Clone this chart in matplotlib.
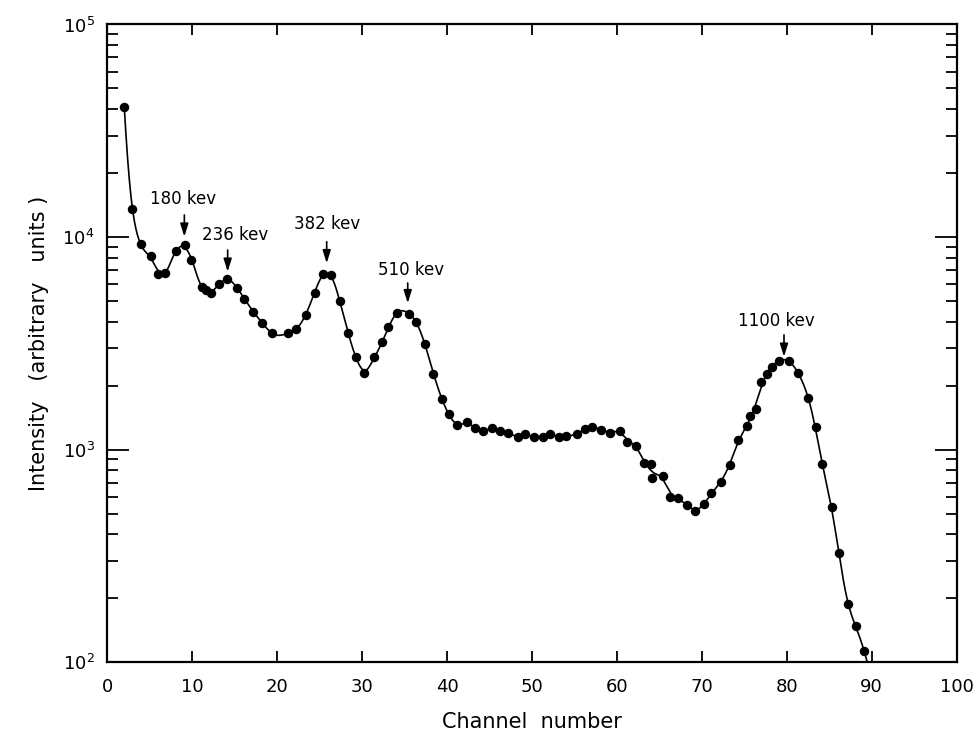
import numpy as np
import matplotlib
matplotlib.use("Agg")
import matplotlib.pyplot as plt
from matplotlib.ticker import LogLocator, MultipleLocator, NullFormatter

# ---- measured spectrum (channel, intensity) ----
channel = [2.0, 2.9, 4.0, 5.2, 6.0, 6.8, 8.1, 9.2, 9.9, 11.1, 11.6, 12.2, 13.1, 14.1,
           15.3, 16.1, 17.2, 18.2, 19.4, 21.3, 22.2, 23.4, 24.4, 25.4, 26.3, 27.4,
           28.3, 29.3, 30.2, 31.4, 32.4, 33.1, 34.1, 35.5, 36.4, 37.4, 38.4, 39.4,
           40.2, 41.2, 42.3, 43.3, 44.2, 45.3, 46.2, 47.2, 48.3, 49.2, 50.2, 51.3,
           52.1, 53.2, 54.0, 55.3, 56.2, 57.1, 58.1, 59.2, 60.4, 61.2, 62.3, 63.2,
           64.0, 64.1, 65.4, 66.3, 67.2, 68.3, 69.2, 70.2, 71.1, 72.2, 73.3, 74.3,
           75.3, 75.7, 76.4, 77.0, 77.7, 78.2, 79.1, 80.2, 81.3, 82.5, 83.4, 84.1,
           85.3, 86.1, 87.2, 88.2, 89.1]
intensity = [40900, 13500, 9250, 8180, 6730, 6780, 8610, 9200, 7800, 5810, 5640, 5440,
             6020, 6370, 5770, 5130, 4460, 3960, 3530, 3530, 3680, 4320, 5470, 6680,
             6630, 4990, 3550, 2740, 2300, 2720, 3200, 3790, 4410, 4350, 3970, 3140,
             2270, 1730, 1470, 1300, 1355, 1262, 1228, 1262, 1224, 1194, 1151, 1181,
             1151, 1143, 1185, 1151, 1159, 1185, 1248, 1283, 1238, 1203, 1224, 1091,
             1045, 863, 857, 738, 752, 601, 593, 551, 516, 553, 624, 705, 849, 1111,
             1292, 1439, 1559, 2088, 2270, 2443, 2625, 2608, 2302, 1758, 1279, 857,
             540, 328, 187, 148, 113]

# ---- peak labels ----
peak_labels = ["180 kev", "236 kev", "382 kev", "510 kev", "1100 kev"]
peak_channel = [9.07, 14.17, 25.83, 35.37, 79.67]


def smooth_curve(x, y, grid, bw=0.85):
    """local quadratic fit in log space, gaussian weights"""
    x = np.asarray(x, float)
    ly = np.log10(np.asarray(y, float))
    out = []
    for g in grid:
        d = x - g
        w = np.exp(-0.5 * (d / bw) ** 2)
        A = np.vstack([np.ones_like(d), d, d ** 2]).T
        Aw = A * w[:, None]
        coef = np.linalg.solve(Aw.T @ A + 1e-9 * np.eye(3), Aw.T @ ly)
        out.append(coef[0])
    return 10 ** np.array(out)


fig = plt.figure(figsize=(9.79, 7.33), dpi=100)
ax = fig.add_axes([0.1096, 0.0965, 0.8676, 0.8701])

grid = np.linspace(channel[0], 89.8, 900)
ax.plot(grid, smooth_curve(channel, intensity, grid), color="black", lw=1.2)
ax.plot(channel, intensity, "o", color="black", ms=5.8, clip_on=False)

ax.set_yscale("log")
ax.set_xlim(0, 100)
ax.set_ylim(1e2, 1e5)

ax.xaxis.set_major_locator(MultipleLocator(10))
ax.yaxis.set_major_locator(LogLocator(base=10))
ax.yaxis.set_minor_locator(LogLocator(base=10, subs=np.arange(2, 10)))
ax.yaxis.set_minor_formatter(NullFormatter())

ax.tick_params(axis="both", which="both", direction="in", top=True, right=True,
               colors="black", width=1.3)
ax.tick_params(axis="x", which="major", length=8, pad=11, labelsize=13)
ax.tick_params(axis="y", which="major", length=16, pad=9, labelsize=13)
ax.tick_params(axis="y", which="minor", length=8)
for s in ax.spines.values():
    s.set_linewidth(1.6)

ax.set_xlabel("Channel  number", fontsize=15, labelpad=12)
ax.set_ylabel("Intensity   (arbitrary   units )", fontsize=15, labelpad=10)

# arrow positions (tail/tip in log10 units) and label positions
arrow_tip = [4.002, 3.837, 3.877, 3.689, 3.437]
arrow_tail = [4.104, 3.939, 3.978, 3.784, 3.540]
text_x = [8.97, 15.0, 25.87, 35.75, 78.73]
text_y = [4.179, 4.008, 4.062, 3.845, 3.603]
for lab, cx, tip, tail, tx, ty in zip(peak_labels, peak_channel, arrow_tip,
                                      arrow_tail, text_x, text_y):
    ax.annotate("", xy=(cx, 10 ** tip), xytext=(cx, 10 ** tail),
                arrowprops=dict(arrowstyle="-|>,head_width=0.22,head_length=0.7",
                                color="black", lw=1.2, mutation_scale=11,
                                shrinkA=0, shrinkB=0))
    ax.text(tx, 10 ** ty, lab, ha="center", va="center", fontsize=12)

fig.savefig("out.png", dpi=100)
